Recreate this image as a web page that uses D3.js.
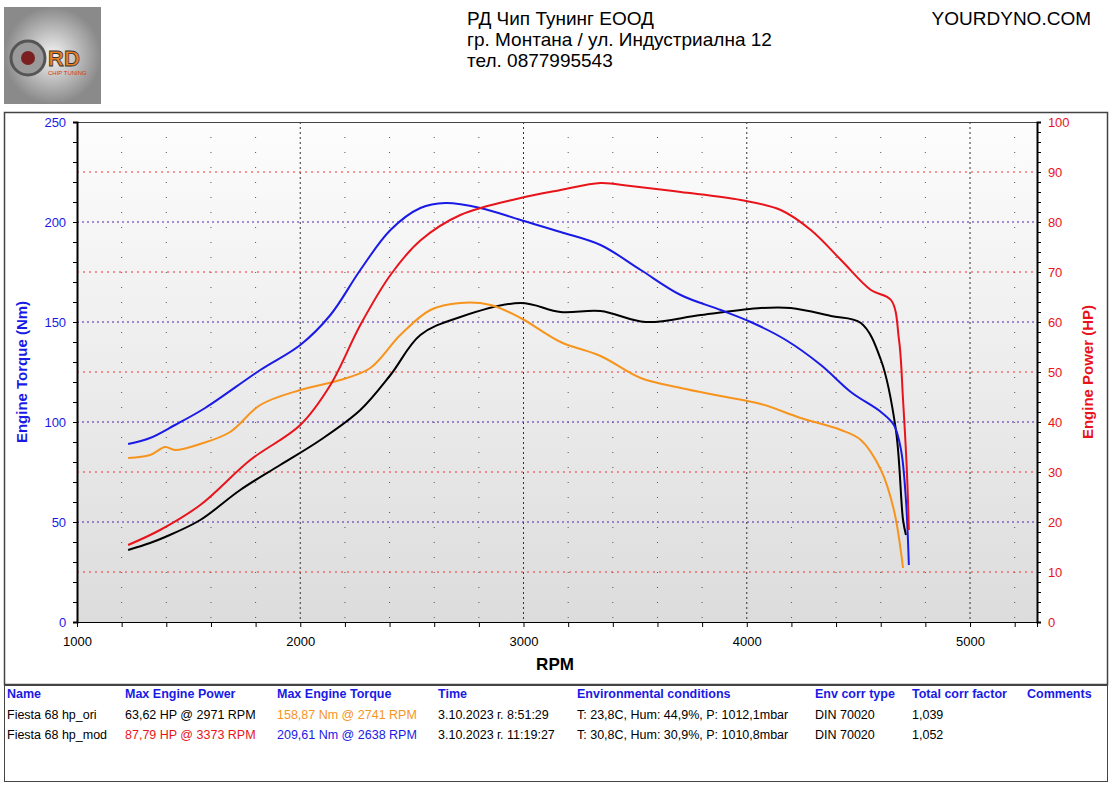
<!DOCTYPE html>
<html><head><meta charset="utf-8">
<script src="https://cdn.jsdelivr.net/npm/d3@7"></script>
<style>body{margin:0;background:#fff;font-family:"Liberation Sans",Arial,sans-serif}</style>
</head><body><div id="chart"></div>
<script>
// curves (rpm, value)
const modTorqueRpm = [1229,1327,1439,1574,1821,2000,2135,2269,2404,2538,2650,2807,2987,3166,3345,3525,3704,3883,4018,4175,4332,4466,4601,4659,4691,4713,4726];
const modTorque    = [89,92,98.5,107,126,138.5,153.5,176,196,207,209.5,207,201,195,188.5,176,163.5,156,150,141,128.5,115,105,98.5,86,61,28.5];
const oriTorqueRpm = [1229,1327,1395,1439,1552,1686,1821,2000,2179,2314,2448,2583,2717,2852,2987,3166,3345,3525,3704,3883,4063,4242,4422,4511,4601,4659,4700];
const oriTorque    = [82,83.5,87.5,86,89,95,108.5,116,121,127,143.5,156,159.5,158.5,152,140,133,122,117,113,109,102,96,91,76,56,27];
const modPowerRpm  = [1229,1372,1552,1776,2000,2135,2269,2404,2538,2717,2987,3166,3345,3480,3704,3973,4152,4287,4422,4556,4646,4682,4700,4717,4726];
const modPower     = [15.4,18.4,23.4,32.4,39.4,47.4,59.4,69.4,76.3,81.4,84.8,86.4,87.8,87.2,86,84.4,82.4,78.4,72.4,66.4,64.4,56.4,44.4,30.4,18.4];
const oriPowerRpm  = [1229,1327,1395,1552,1731,1910,2090,2269,2404,2538,2717,2987,3166,3345,3547,3794,4063,4197,4377,4511,4601,4668,4700,4713];
const oriPower     = [14.4,15.8,17,20.4,26.4,31.4,36.4,42.4,49.4,57.4,61,63.8,62,62.2,60,61.4,62.8,62.8,61.2,59.8,52.4,38.4,20.4,17.4];
const torqueTicks = [0,50,100,150,200,250];
const powerTicks = [0,10,20,30,40,50,60,70,80,90,100];
const rpmTicks = [1000,2000,3000,4000,5000];
const headerLines = ["РД Чип Тунинг ЕООД","гр. Монтана / ул. Индустриална 12","тел. 0877995543"];
const tableHead = ["Name","Max Engine Power","Max Engine Torque","Time","Environmental conditions","Env corr type","Total corr factor","Comments"];
const tableRows = [
  ["Fiesta 68 hp_ori","63,62 HP @ 2971 RPM","158,87 Nm @ 2741 RPM","3.10.2023 г. 8:51:29","T: 23,8C, Hum: 44,9%, P: 1012,1mbar","DIN 70020","1,039",""],
  ["Fiesta 68 hp_mod","87,79 HP @ 3373 RPM","209,61 Nm @ 2638 RPM","3.10.2023 г. 11:19:27","T: 30,8C, Hum: 30,9%, P: 1010,8mbar","DIN 70020","1,052",""]
];
const rowColors = [["#000","#000","#f7941d","#000","#000","#000","#000"],["#000","#e8141b","#1a1ae6","#000","#000","#000","#000"]];
const colX = [7,125,277,438,577,815,912,1027];

const W=1112,H=790;
const svg=d3.select("#chart").append("svg").attr("width",W).attr("height",H);
const defs=svg.append("defs");
const bg=defs.append("linearGradient").attr("id","bg").attr("x1",0).attr("y1",0).attr("x2",0).attr("y2",1);
bg.append("stop").attr("offset","0").attr("stop-color","#fdfdfd");
bg.append("stop").attr("offset","1").attr("stop-color","#dcdcdc");
const lg=defs.append("radialGradient").attr("id","logo");
lg.append("stop").attr("offset","0").attr("stop-color","#f4f4f4");
lg.append("stop").attr("offset","1").attr("stop-color","#8a8a8a");

// logo
svg.append("rect").attr("x",4).attr("y",7).attr("width",97).attr("height",97).attr("fill","url(#logo)");
svg.append("circle").attr("cx",28).attr("cy",58).attr("r",17).attr("fill","#9a9a9a").attr("stroke","#555").attr("stroke-width",3);
svg.append("circle").attr("cx",28).attr("cy",58).attr("r",7).attr("fill","#7a2020");
svg.append("text").attr("x",48).attr("y",66).text("RD").attr("font-size",22).attr("font-weight","bold").attr("fill","#f08020").attr("stroke","#333").attr("stroke-width",0.8);
svg.append("text").attr("x",48).attr("y",75).text("CHIP TUNING").attr("font-size",6).attr("fill","#e03010");

headerLines.forEach((t,i)=>svg.append("text").attr("x",467).attr("y",25+i*21).text(t).attr("font-size",19).attr("fill","#000"));
svg.append("text").attr("x",1091).attr("y",25).attr("text-anchor","end").text("YOURDYNO.COM").attr("font-size",19);

// frames
svg.append("rect").attr("x",4.5).attr("y",112.5).attr("width",1103).attr("height",572).attr("fill","none").attr("stroke","#444").attr("stroke-width",1.5);
svg.append("rect").attr("x",4.5).attr("y",685.5).attr("width",1103).attr("height",96).attr("fill","none").attr("stroke","#444").attr("stroke-width",1);

const x=d3.scaleLinear().domain([1000,5300]).range([77,1037]);
const yT=d3.scaleLinear().domain([0,250]).range([622,122]);
const yP=d3.scaleLinear().domain([0,100]).range([622,122]);

svg.append("rect").attr("x",77).attr("y",122).attr("width",960).attr("height",500).attr("fill","url(#bg)");
const g=svg.append("g");
d3.range(1200,5300,200).forEach(r=>{
  const major=r%1000===0;
  g.append("line").attr("x1",x(r)).attr("x2",x(r)).attr("y1",122).attr("y2",622)
   .attr("stroke",major?"#333":"#555").attr("stroke-width",1).attr("stroke-dasharray",major?"2,3":"1,14");
});
powerTicks.filter(v=>v%20===10).forEach(v=>g.append("line").attr("x1",77).attr("x2",1037).attr("y1",yP(v)).attr("y2",yP(v)).attr("stroke","#e33").attr("stroke-dasharray","2,4"));
torqueTicks.filter(v=>v>0&&v<250).forEach(v=>g.append("line").attr("x1",77).attr("x2",1037).attr("y1",yT(v)).attr("y2",yT(v)).attr("stroke","#5522aa").attr("stroke-dasharray","2,3"));
g.append("line").attr("x1",77).attr("x2",1037).attr("y1",122.5).attr("y2",122.5).attr("stroke","#444");

// axes
const ax=svg.append("g").attr("transform","translate(0,622)").call(d3.axisBottom(x).tickValues(d3.range(1000,5300,200)).tickSize(5).tickFormat(d=>rpmTicks.includes(d)?d:""));
ax.selectAll("text").attr("font-size",13).attr("fill","#000").attr("dy","1.2em").attr("font-family","Liberation Sans,Arial");
ax.select(".domain").attr("stroke","#000");
const al=svg.append("g").attr("transform","translate(77,0)").call(d3.axisLeft(yT).tickValues(d3.range(0,251,10)).tickSize(4).tickFormat(d=>torqueTicks.includes(d)?d:""));
al.selectAll("text").attr("font-size",13).attr("fill","#1a1ae6").attr("font-family","Liberation Sans,Arial").attr("dx","-0.3em");
al.select(".domain").attr("stroke","#000").attr("stroke-width",2);
const ar=svg.append("g").attr("transform","translate(1037,0)").call(d3.axisRight(yP).tickValues(d3.range(0,101,2)).tickSize(4).tickFormat(d=>powerTicks.includes(d)?d:""));
ar.selectAll("text").attr("font-size",13).attr("fill","#e8141b").attr("font-family","Liberation Sans,Arial").attr("dx","0.3em");
ar.select(".domain").attr("stroke","#000").attr("stroke-width",2);

svg.append("text").attr("x",555).attr("y",670).attr("text-anchor","middle").text("RPM").attr("font-size",17).attr("font-weight","bold");
svg.append("text").attr("transform","translate(27,372) rotate(-90)").attr("text-anchor","middle").text("Engine Torque (Nm)").attr("font-size",15).attr("font-weight","bold").attr("fill","#1a1ae6");
svg.append("text").attr("transform","translate(1093,372) rotate(-90)").attr("text-anchor","middle").text("Engine Power (HP)").attr("font-size",15).attr("font-weight","bold").attr("fill","#e8141b");

// curves
const draw=(rpm,vals,ys,color)=>{
  const line=d3.line().x(d=>x(d[0])).y(d=>ys(d[1])).curve(d3.curveCatmullRom.alpha(0.5));
  svg.append("path").datum(rpm.map((r,i)=>[r,vals[i]])).attr("d",line).attr("fill","none").attr("stroke",color).attr("stroke-width",2);
};
draw(oriPowerRpm,oriPower,yP,"#000");
draw(oriTorqueRpm,oriTorque,yT,"#f7941d");
draw(modTorqueRpm,modTorque,yT,"#1a1ae6");
draw(modPowerRpm,modPower,yP,"#e8141b");

// table
tableHead.forEach((t,i)=>svg.append("text").attr("x",colX[i]).attr("y",698).text(t).attr("font-size",12.5).attr("font-weight","bold").attr("fill","#1a1ae6"));
tableRows.forEach((row,r)=>row.forEach((t,i)=>svg.append("text").attr("x",colX[i]).attr("y",719+r*20).text(t).attr("font-size",12.5).attr("fill",rowColors[r][i]||"#000")));
</script></body></html>
